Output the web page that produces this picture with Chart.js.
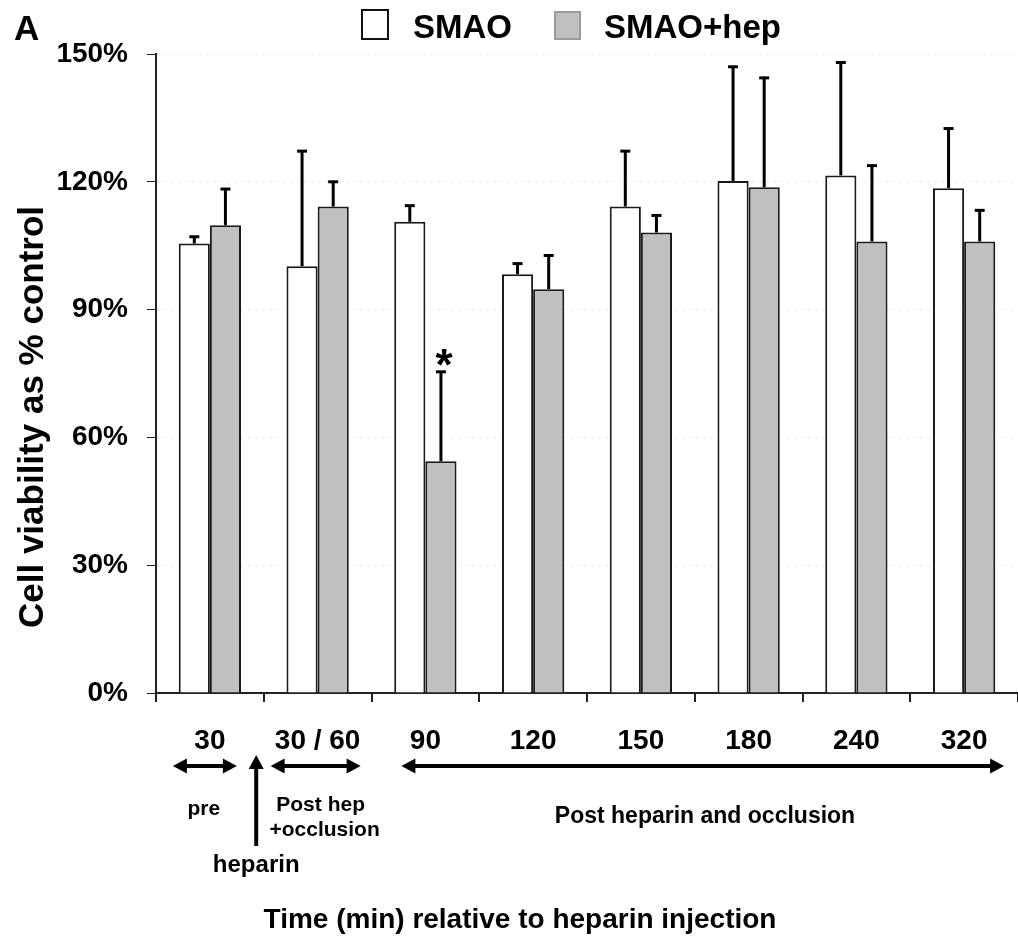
<!DOCTYPE html>
<html><head><meta charset="utf-8">
<script src="https://cdn.jsdelivr.net/npm/chart.js@4.4.1/dist/chart.umd.min.js"></script>
<style>html,body{margin:0;padding:0;background:#fff}canvas{display:block}</style>
</head><body>
<canvas id="c" width="1018" height="948"></canvas>
<script>
// ---- data ----
const categories = ['30', '30 / 60', '90', '120', '150', '180', '240', '320'];
const seriesNames = ['SMAO', 'SMAO+hep'];
const smaoValues = [105.5, 100.2, 110.6, 98.3, 114.2, 120.2, 121.5, 118.5];
const smaoErrors = [1.6, 27.0, 3.8, 2.5, 13.0, 26.8, 26.5, 14.0];
const hepValues  = [109.8, 114.2, 54.4, 94.8, 108.1, 118.7, 106.0, 106.0];
const hepErrors  = [8.5, 5.8, 21.0, 7.9, 4.0, 25.7, 17.8, 7.3];
const hepSignificant = [false, false, true, false, false, false, false, false];
const yTickValues = [0, 30, 60, 90, 120, 150];
const yAxisTitle = 'Cell viability as % control';
const xAxisTitle = 'Time (min) relative to heparin injection';
const panelLabel = 'A';
const phaseLabels = ['pre', 'Post hep', '+occlusion', 'heparin', 'Post heparin and occlusion'];

const FONT = '"Liberation Sans", Arial, Helvetica, sans-serif';
const INK = '#000';
const GRAY = '#c0c0c0';

function arrowHead(ctx, tx, ty, dx, dy, len, half) {
  const bx = tx - dx * len, by = ty - dy * len;
  const px = -dy, py = dx;
  ctx.beginPath();
  ctx.moveTo(tx, ty);
  ctx.lineTo(bx + px * half, by + py * half);
  ctx.lineTo(bx - px * half, by - py * half);
  ctx.closePath();
  ctx.fill();
}
function hArrow(ctx, x1, x2, y) {
  ctx.lineWidth = 4;
  ctx.beginPath(); ctx.moveTo(x1 + 8, y); ctx.lineTo(x2 - 8, y); ctx.stroke();
  arrowHead(ctx, x1, y, -1, 0, 14, 7.5);
  arrowHead(ctx, x2, y, 1, 0, 14, 7.5);
}
function vArrow(ctx, x, yTip, yEnd) {
  ctx.lineWidth = 4;
  ctx.beginPath(); ctx.moveTo(x, yEnd); ctx.lineTo(x, yTip + 8); ctx.stroke();
  arrowHead(ctx, x, yTip, 0, -1, 14, 7.5);
}

const errorBars = {
  id: 'errorBars',
  afterDatasetsDraw(chart) {
    const ctx = chart.ctx, ys = chart.scales.y;
    const errs = [smaoErrors, hepErrors];
    chart.data.datasets.forEach((ds, i) => {
      const meta = chart.getDatasetMeta(i);
      meta.data.forEach((bar, j) => {
        const top = ys.getPixelForValue(ds.data[j] + errs[i][j]);
        ctx.save();
        ctx.strokeStyle = INK; ctx.fillStyle = INK;
        ctx.lineWidth = 3;
        ctx.beginPath(); ctx.moveTo(bar.x, bar.y); ctx.lineTo(bar.x, top); ctx.stroke();
        ctx.beginPath(); ctx.moveTo(bar.x - 5, top); ctx.lineTo(bar.x + 5, top); ctx.stroke();
        if (i === 1 && hepSignificant[j]) {
          ctx.font = 'bold 44px ' + FONT;
          ctx.textAlign = 'center'; ctx.textBaseline = 'alphabetic';
          ctx.fillText('*', bar.x + 3, top + 8);
        }
        ctx.restore();
      });
    });
  }
};

const annotations = {
  id: 'annotations',
  afterDraw(chart) {
    const ctx = chart.ctx, xs = chart.scales.x;
    const c = i => xs.getPixelForValue(i);
    const w = (chart.chartArea.right - chart.chartArea.left) / categories.length;
    ctx.save();
    ctx.fillStyle = INK; ctx.strokeStyle = INK;
    // panel label
    ctx.font = 'bold 35px ' + FONT; ctx.textAlign = 'left'; ctx.textBaseline = 'alphabetic';
    ctx.fillText(panelLabel, 14, 40);
    // legend
    ctx.lineWidth = 2; ctx.strokeStyle = '#111'; ctx.fillStyle = '#fff';
    ctx.fillRect(362, 10, 26, 29); ctx.strokeRect(362, 10, 26, 29);
    ctx.fillStyle = GRAY; ctx.strokeStyle = '#9a9a9a';
    ctx.fillRect(555, 12, 25, 27); ctx.strokeRect(555, 12, 25, 27);
    ctx.fillStyle = INK; ctx.strokeStyle = INK;
    ctx.font = 'bold 33px ' + FONT;
    ctx.fillText(seriesNames[0], 413, 38);
    ctx.fillText(seriesNames[1], 604, 38);
    // arrows
    const ay = 766;
    hArrow(ctx, c(0) - 37, c(0) + 27, ay);
    vArrow(ctx, c(0) + 0.43 * w, 755, 846);
    hArrow(ctx, c(1) - 47, c(1) + 43, ay);
    hArrow(ctx, c(2) - 24, c(7) + 40, ay);
    // phase texts
    ctx.textAlign = 'center';
    ctx.font = 'bold 21px ' + FONT;
    ctx.fillText(phaseLabels[0], c(0) - 6, 815);
    ctx.fillText(phaseLabels[1], c(1) + 3, 811);
    ctx.fillText(phaseLabels[2], c(1) + 7, 836);
    ctx.font = 'bold 24px ' + FONT;
    ctx.fillText(phaseLabels[3], c(0) + 0.43 * w, 872);
    ctx.font = 'bold 23px ' + FONT;
    ctx.fillText(phaseLabels[4], 705, 823);
    // x axis title
    ctx.font = 'bold 28px ' + FONT;
    ctx.fillText(xAxisTitle, 520, 928);
    // y axis title
    ctx.save();
    ctx.translate(43, 417);
    ctx.rotate(-Math.PI / 2);
    ctx.font = 'bold 35px ' + FONT;
    ctx.fillText(yAxisTitle, 0, 0);
    ctx.restore();
    ctx.restore();
  }
};

new Chart(document.getElementById('c'), {
  type: 'bar',
  data: {
    labels: categories,
    datasets: [
      { label: seriesNames[0], data: smaoValues, backgroundColor: '#fff', borderColor: '#1a1a1a', borderWidth: 2, borderSkipped: 'bottom' },
      { label: seriesNames[1], data: hepValues, backgroundColor: GRAY, borderColor: '#1a1a1a', borderWidth: 2, borderSkipped: 'bottom' }
    ]
  },
  options: {
    responsive: false,
    animation: false,
    devicePixelRatio: 1,
    layout: { padding: { top: 54, right: -3, left: 0, bottom: 0 } },
    datasets: { bar: { categoryPercentage: 0.578, barPercentage: 1 } },
    plugins: { legend: { display: false }, tooltip: { enabled: false }, title: { display: false } },
    scales: {
      x: {
        afterFit(s) { s.height = 255; },
        grid: { offset: true, drawOnChartArea: false, tickLength: 9, tickColor: '#222', lineWidth: 2 },
        border: { display: true, color: '#222', width: 2 },
        ticks: { color: INK, font: { family: FONT, size: 28, weight: 'bold' }, padding: 22, maxRotation: 0, autoSkip: false }
      },
      y: {
        min: 0, max: 150,
        afterFit(s) { s.width = 156; },
        afterBuildTicks(s) { s.ticks = yTickValues.map(v => ({ value: v })); },
        grid: { color: 'rgba(0,0,0,0.08)', tickColor: '#222', tickLength: 9, lineWidth: 1, tickBorderDash: [] },
        border: { display: true, color: '#222', width: 2, dash: [3, 4] },
        ticks: { color: INK, font: { family: FONT, size: 28, weight: 'bold' }, padding: 19, callback: v => v + '%' }
      }
    }
  },
  plugins: [errorBars, annotations]
});
</script>
</body></html>
